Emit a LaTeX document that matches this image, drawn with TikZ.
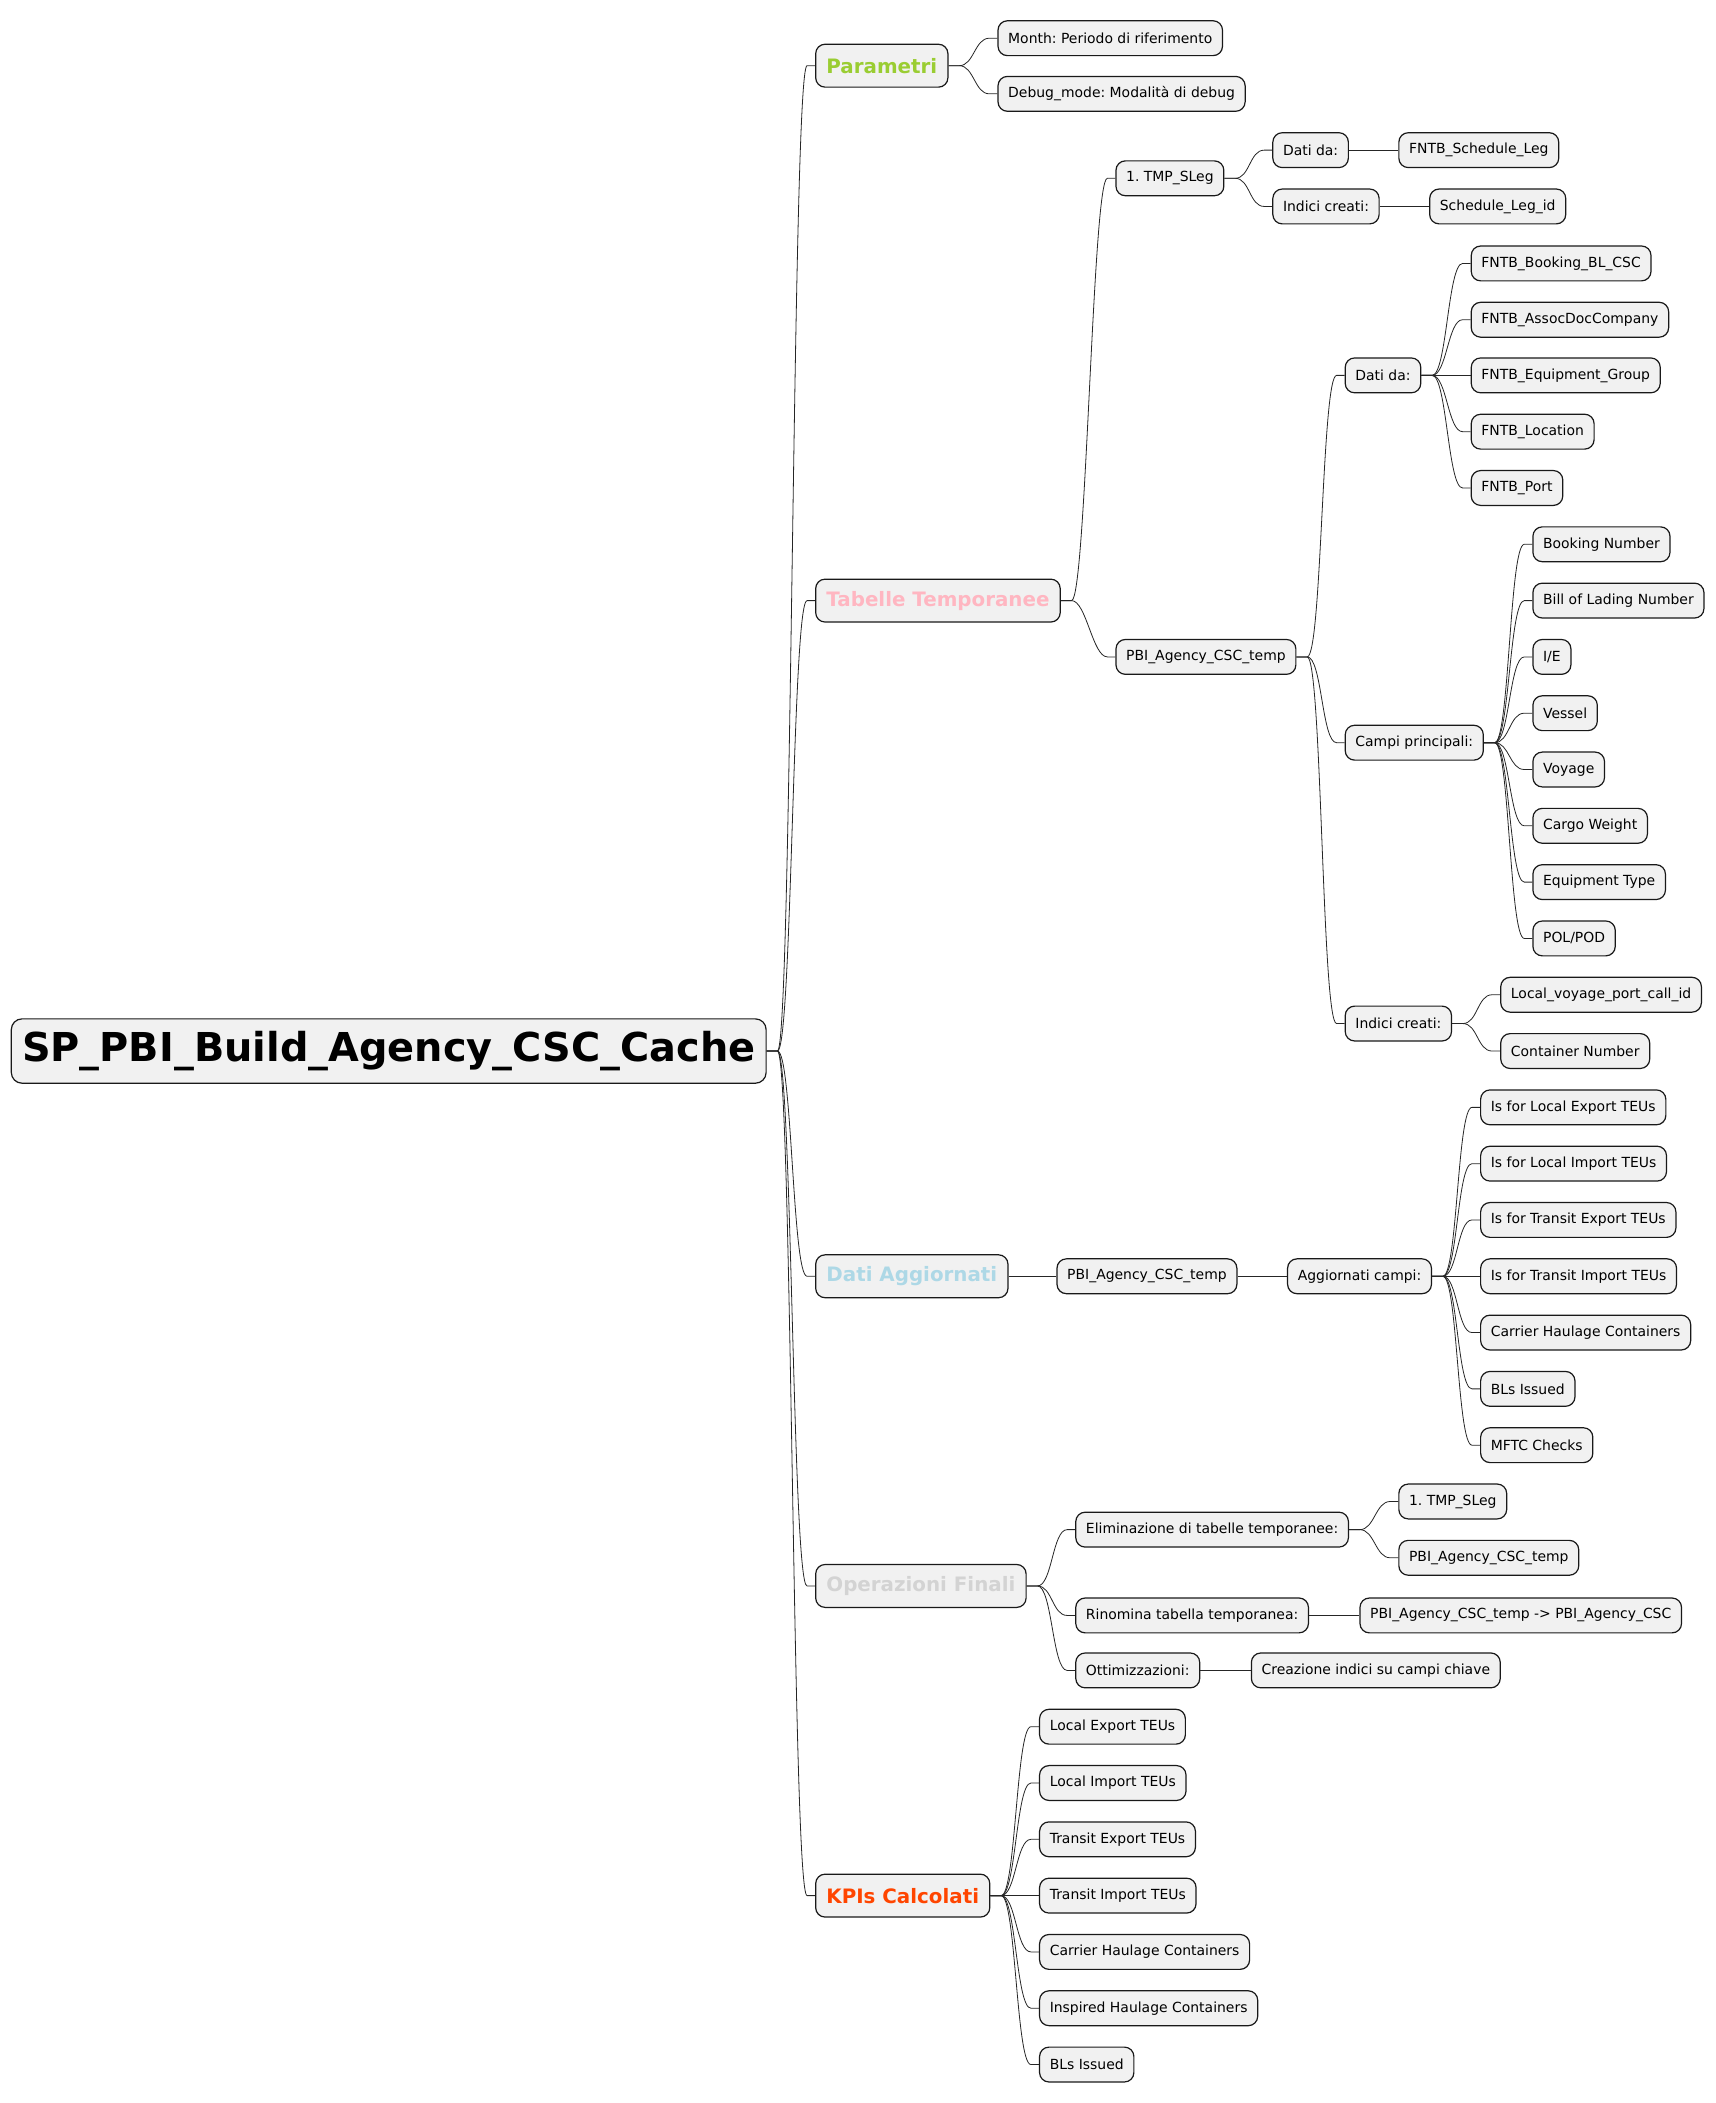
\documentclass[tikz,border=0pt]{standalone}
\usepackage{fontspec}
\setmainfont{DejaVu Sans}
\usetikzlibrary{calc}
\frenchspacing

\definecolor{nodebg}{HTML}{F1F1F1}
\definecolor{paramcol}{HTML}{9ACD32}
\definecolor{tabcol}{HTML}{FFB6C1}
\definecolor{datacol}{HTML}{ADD8E6}
\definecolor{opcol}{HTML}{D3D3D3}
\definecolor{kpicol}{HTML}{FF4500}

\tikzset{
  box/.style={draw=black!90, fill=nodebg, rounded corners=7pt, line width=0.9pt,
    anchor=west, inner xsep=7.6pt, inner ysep=0pt},
  leaf/.style={box, minimum height=26pt, font=\fontsize{10.4}{12}\selectfont},
  topic/.style={box, minimum height=32pt, inner xsep=8pt, font=\fontsize{14.8}{17}\selectfont\bfseries},
  rootbox/.style={box, minimum height=48pt, inner xsep=8pt, rounded corners=8pt, font=\fontsize{29.7}{34}\selectfont\bfseries},
  edge/.style={line width=0.6pt, black!85}
}
% parent -> child connector
\newcommand{\branch}[2]{\draw[edge] (#1.east) -- ++(8,0) .. controls ($(#1.east)+(19,0)$) and ($(#2.west)+(-17,0)$) .. ($(#2.west)+(-6,0)$) -- (#2.west);}

\begin{document}
\begin{tikzpicture}[x=1pt,y=-1pt]
\useasboundingbox (0,0) rectangle (1280,1568.7);

\node[rootbox] (root) at (8,784) {SP\_PBI\_Build\_Agency\_CSC\_Cache};

\node[topic, text=paramcol] (param) at (608,49) {Parametri};
\node[topic, text=tabcol] (tab) at (608,448) {Tabelle Temporanee};
\node[topic, text=datacol] (agg) at (608,952) {Dati Aggiornati};
\node[topic, text=opcol] (oper) at (608,1183) {Operazioni Finali};
\node[topic, text=kpicol] (kpi) at (608,1414) {KPIs Calcolati};
\foreach \Topic in {param,tab,agg,oper,kpi}
  {\branch{root}{\Topic}}

% Parametri
\node[leaf] (month) at (744,28.5) {Month: Periodo di riferimento};
\node[leaf] (debug) at (744,70) {Debug\_mode: Modalità di debug};
\branch{param}{month}
\branch{param}{debug}

% Tabelle Temporanee
\node[leaf] (tmp) at (832,133) {1. TMP\_SLeg};
\node[leaf] (pbi) at (832,490) {PBI\_Agency\_CSC\_temp};
\branch{tab}{tmp}
\branch{tab}{pbi}

\node[leaf] (tmpsrc) at (949,112) {Dati da:};
\node[leaf] (tmpidx) at (949,154) {Indici creati:};
\node[leaf] (sleg) at (1043,112) {FNTB\_Schedule\_Leg};
\node[leaf] (slegid) at (1066,154) {Schedule\_Leg\_id};
\branch{tmp}{tmpsrc}
\branch{tmp}{tmpidx}
\branch{tmpsrc}{sleg}
\branch{tmpidx}{slegid}

\node[leaf] (pbisrc) at (1003,280) {Dati da:};
\node[leaf] (pbifld) at (1003,554) {Campi principali:};
\node[leaf] (pbiidx) at (1003,763.5) {Indici creati:};
\branch{pbi}{pbisrc}
\branch{pbi}{pbifld}
\branch{pbi}{pbiidx}

\foreach \Ypos/\Label [count=\i] in {196.5/{FNTB\_Booking\_BL\_CSC}, 238.5/{FNTB\_AssocDocCompany},
    280/{FNTB\_Equipment\_Group}, 322/{FNTB\_Location}, 364/{FNTB\_Port}}
  {\node[leaf] (src\i) at (1097,\Ypos) {\Label};
   \branch{pbisrc}{src\i}}

\foreach \Ypos/\Label [count=\i] in {406/{Booking Number}, 448/{Bill of Lading Number}, 490/{I/E},
    532/{Vessel}, 574/{Voyage}, 616/{Cargo Weight}, 658/{Equipment Type}, 700/{POL/POD}}
  {\node[leaf] (fld\i) at (1143,\Ypos) {\Label};
   \branch{pbifld}{fld\i}}

\node[leaf] (idx1) at (1119,742) {Local\_voyage\_port\_call\_id};
\node[leaf] (idx2) at (1119,784) {Container Number};
\branch{pbiidx}{idx1}
\branch{pbiidx}{idx2}

% Dati Aggiornati
\node[leaf] (aggtab) at (788,952) {PBI\_Agency\_CSC\_temp};
\node[leaf] (aggfld) at (960,952) {Aggiornati campi:};
\branch{agg}{aggtab}
\branch{aggtab}{aggfld}
\foreach \Ypos/\Label [count=\i] in {826/{Is for Local Export TEUs}, 868/{Is for Local Import TEUs},
    910/{Is for Transit Export TEUs}, 952/{Is for Transit Import TEUs}, 994/{Carrier Haulage Containers},
    1036/{BLs Issued}, 1078/{MFTC Checks}}
  {\node[leaf] (upd\i) at (1104,\Ypos) {\Label};
   \branch{aggfld}{upd\i}}

% Operazioni Finali
\node[leaf] (drop) at (802,1141) {Eliminazione di tabelle temporanee:};
\node[leaf] (ren) at (802,1205) {Rinomina tabella temporanea:};
\node[leaf] (opt) at (802,1246) {Ottimizzazioni:};
\branch{oper}{drop}
\branch{oper}{ren}
\branch{oper}{opt}
\node[leaf] (drop1) at (1043,1120) {1. TMP\_SLeg};
\node[leaf] (drop2) at (1043,1162) {PBI\_Agency\_CSC\_temp};
\node[leaf] (ren1) at (1014,1205) {PBI\_Agency\_CSC\_temp -> PBI\_Agency\_CSC};
\node[leaf] (opt1) at (933,1246) {Creazione indici su campi chiave};
\branch{drop}{drop1}
\branch{drop}{drop2}
\branch{ren}{ren1}
\branch{opt}{opt1}

% KPIs Calcolati
\foreach \Ypos/\Label [count=\i] in {1288/{Local Export TEUs}, 1330/{Local Import TEUs},
    1372/{Transit Export TEUs}, 1414/{Transit Import TEUs}, 1456/{Carrier Haulage Containers},
    1498/{Inspired Haulage Containers}, 1540/{BLs Issued}}
  {\node[leaf] (kpi\i) at (775,\Ypos) {\Label};
   \branch{kpi}{kpi\i}}
\end{tikzpicture}
\end{document}
